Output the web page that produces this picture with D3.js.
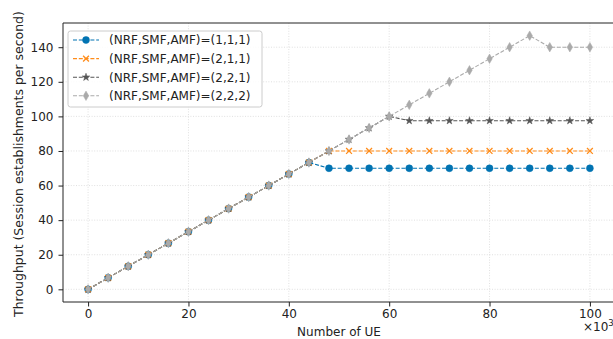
<!DOCTYPE html>
<html><head><meta charset="utf-8">
<script src="https://cdn.jsdelivr.net/npm/d3@7"></script>
<style>body{margin:0;background:#fff}svg{display:block}text{font-family:"DejaVu Sans",sans-serif}</style>
</head><body><svg id="c" width="613" height="339"></svg>
<script>
const ueThousands = [0,4,8,12,16,20,24,28,32,36,40,44,48,52,56,60,64,68,72,76,80,84,88,92,96,100];
const s111 = [0,6.67,13.33,20,26.67,33.33,40,46.67,53.33,60,66.67,73.33,70,70,70,70,70,70,70,70,70,70,70,70,70,70];
const s211 = [0,6.67,13.33,20,26.67,33.33,40,46.67,53.33,60,66.67,73.33,80,80,80,80,80,80,80,80,80,80,80,80,80,80];
const s221 = [0,6.67,13.33,20,26.67,33.33,40,46.67,53.33,60,66.67,73.33,80,86.67,93.33,100,97.5,97.5,97.5,97.5,97.5,97.5,97.5,97.5,97.5,97.5];
const s222 = [0,6.67,13.33,20,26.67,33.33,40,46.67,53.33,60,66.67,73.33,80,86.67,93.33,100,106.67,113.33,120,126.67,133.33,140,146.67,140,140,140];
const seriesNames = ["(NRF,SMF,AMF)=(1,1,1)","(NRF,SMF,AMF)=(2,1,1)","(NRF,SMF,AMF)=(2,2,1)","(NRF,SMF,AMF)=(2,2,2)"];
const xTicks = [0,20,40,60,80,100];
const yTicks = [0,20,40,60,80,100,120,140];

const colors = ["#0173b2","#ff8c1a","#555555","#aaaaaa"];
const markers = [d3.symbolCircle, d3.symbolX, d3.symbolStar, d3.symbolDiamond];
const mSizes = [38, 24, 18, 26];
const data = [s111,s211,s221,s222];

const svg = d3.select("#c");
const L=63, R=615, T=23, B=302;
const x = d3.scaleLinear().domain([-5,105]).range([L,R]);
const y = d3.scaleLinear().domain([-7.33,154]).range([B,T]);

// grid
const g = svg.append("g");
g.selectAll(".gx").data(xTicks).join("line").attr("x1",d=>x(d)).attr("x2",d=>x(d)).attr("y1",T).attr("y2",B)
 .attr("stroke","#d8d8d8").attr("stroke-width",0.8).attr("stroke-dasharray","1,1.6");
g.selectAll(".gy").data(yTicks).join("line").attr("y1",d=>y(d)).attr("y2",d=>y(d)).attr("x1",L).attr("x2",R)
 .attr("stroke","#d8d8d8").attr("stroke-width",0.8).attr("stroke-dasharray","1,1.6");

// axes
const xa = svg.append("g").attr("transform",`translate(0,${B})`).call(d3.axisBottom(x).tickValues(xTicks).tickSize(4.5).tickPadding(3));
const ya = svg.append("g").attr("transform",`translate(${L},0)`).call(d3.axisLeft(y).tickValues(yTicks).tickSize(4.5).tickPadding(5));
[xa,ya].forEach(a=>{a.select(".domain").remove();a.selectAll("text").attr("font-size",12).attr("fill","#222");a.selectAll("line").attr("stroke","#222");});
svg.append("line").attr("x1",L).attr("x2",L).attr("y1",T).attr("y2",B).attr("stroke","#222").attr("stroke-width",1);
svg.append("line").attr("x1",L).attr("x2",R).attr("y1",B).attr("y2",B).attr("stroke","#222").attr("stroke-width",1);
svg.append("line").attr("x1",L).attr("x2",R).attr("y1",T).attr("y2",T).attr("stroke","#222").attr("stroke-width",1);

// series
const line = d3.line().x((d,i)=>x(ueThousands[i])).y(d=>y(d));
data.forEach((s,k)=>{
  const gg = svg.append("g");
  gg.append("path").attr("d",line(s)).attr("fill","none").attr("stroke",colors[k]).attr("stroke-width",1.1).attr("stroke-dasharray","4,1.8");
  gg.selectAll("path.m").data(s).join("path").attr("class","m")
    .attr("transform",(d,i)=>`translate(${x(ueThousands[i])},${y(d)})`)
    .attr("d",d3.symbol().type(markers[k]).size(mSizes[k]))
    .attr("fill",colors[k]).attr("stroke",colors[k]).attr("stroke-width",k===1?1.3:0.5);
});

// labels
svg.append("text").attr("x",(L+R)/2).attr("y",335.5).attr("text-anchor","middle").attr("font-size",12).attr("fill","#222").text("Number of UE");
const yl = svg.append("text").attr("transform",`translate(22.5,164) rotate(-90)`).attr("text-anchor","middle").attr("font-size",12).attr("fill","#222").text("Throughput (Session establishments per second)");
const len = yl.node().getComputedTextLength();
if (len > 0) yl.attr("font-size", Math.min(15, 12*306/len));
const mult = svg.append("text").attr("x",583).attr("y",331).attr("font-size",12).attr("fill","#222");
mult.append("tspan").text("×10");
mult.append("tspan").attr("dy",-5).attr("font-size",8.5).text("3");

// legend
const lg = svg.append("g");
lg.append("rect").attr("x",68).attr("y",31).attr("width",194).attr("height",76).attr("rx",2.5).attr("fill","#fff").attr("fill-opacity",0.85).attr("stroke","#cccccc");
seriesNames.forEach((n,k)=>{
  const yy = 40 + k*18.6;
  lg.append("line").attr("x1",73).attr("x2",99).attr("y1",yy).attr("y2",yy).attr("stroke",colors[k]).attr("stroke-width",1.1).attr("stroke-dasharray","4,1.8");
  lg.append("path").attr("transform",`translate(86,${yy})`).attr("d",d3.symbol().type(markers[k]).size(mSizes[k]))
    .attr("fill",colors[k]).attr("stroke",colors[k]).attr("stroke-width",k===1?1.3:0.5);
  lg.append("text").attr("x",109).attr("y",yy+4.3).attr("font-size",12).attr("fill","#222").text(n);
});
</script></body></html>
